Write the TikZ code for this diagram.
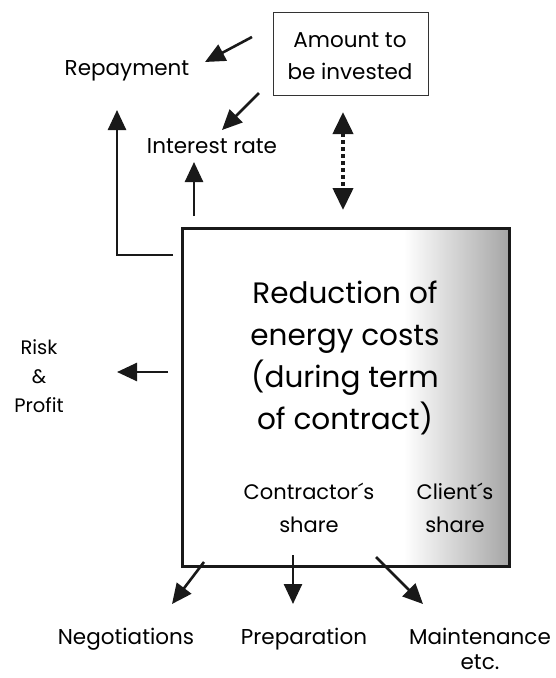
\documentclass[tikz,border=0pt]{standalone}
\usepackage{fontspec}
\setmainfont{Poppins}
\usetikzlibrary{arrows.meta}
\tikzset{
  arr/.style={line width=2.6pt, -{Triangle[length=20pt,width=18pt]}, draw=black!90},
  lbl/.style={inner sep=0pt, align=center, font=\fontsize{21.5}{32}\selectfont},
}
\begin{document}
\begin{tikzpicture}[x=1pt,y=-1pt]
\useasboundingbox (0,0) rectangle (555,678);
% main box with gradient
\shade[left color=white, right color=black!35] (404,228) rectangle (509,566);
\fill[white] (182,228) rectangle (404,566);
\node[draw=black!90, line width=3pt, minimum width=327pt, minimum height=338pt, inner sep=0pt] (main) at (345.5,397) {};
\node[lbl, font=\fontsize{29.5}{42}\selectfont] (red) at (345,358) {Reduction of\\energy costs\\(during term\\of contract)};
\node[lbl, font=\fontsize{21}{33}\selectfont] (cshare) at (309,508) {Contractor´s\\share};
\node[lbl, font=\fontsize{21}{33}\selectfont] (clshare) at (455,508) {Client´s\\share};
% amount box
\node[draw=black!80, line width=1pt, minimum width=155pt, minimum height=83pt, inner sep=0pt] (amt) at (350.5,54) {};
\node[lbl, font=\fontsize{21.5}{32}\selectfont] (amtt) at (350,56) {Amount to\\be invested};
% labels
\node[lbl] (rep) at (127,71) {Repayment};
\node[lbl] (int) at (212,146) {Interest rate};
\node[lbl, font=\fontsize{19.5}{29}\selectfont] (risk) at (39,376) {Risk\\\&\\Profit};
\node[lbl] (neg) at (126,639) {Negotiations};
\node[lbl] (prep) at (304,639) {Preparation};
\node[lbl, font=\fontsize{21.5}{25}\selectfont] (main2) at (480,649) {Maintenance\\etc.\hspace{20pt}};
% arrow coordinates
\coordinate (a1s) at (252,37); \coordinate (a1e) at (205,62);
\coordinate (a2s) at (259,93); \coordinate (a2e) at (222,130);
\coordinate (a3s) at (194,216); \coordinate (a3e) at (194,162);
\coordinate (a4s) at (173,255); \coordinate (a4m) at (117,255); \coordinate (a4e) at (117,110);
\coordinate (dtop) at (343,112); \coordinate (dbot) at (343,210);
\coordinate (rks) at (168,372); \coordinate (rke) at (117,372);
\coordinate (n1s) at (204,562); \coordinate (n1e) at (172,604);
\coordinate (p1s) at (293,555); \coordinate (p1e) at (293,604);
\coordinate (m1s) at (376,557); \coordinate (m1e) at (423,604);
\draw[arr] (a1s) -- (a1e);
\draw[arr] (a2s) -- (a2e);
\draw[arr] (a3s) -- (a3e);
\draw[arr] (a4s) -- (a4m) -- (a4e);
\draw[arr] (rks) -- (rke);
\draw[arr] (n1s) -- (n1e);
\draw[arr] (p1s) -- (p1e);
\draw[arr] (m1s) -- (m1e);
% dashed double arrow
\draw[line width=4pt, black!90, dash pattern=on 4pt off 3pt, {Triangle[length=22pt,width=20pt]}-{Triangle[length=22pt,width=20pt]}] (dtop) -- (dbot);
\end{tikzpicture}
\end{document}
